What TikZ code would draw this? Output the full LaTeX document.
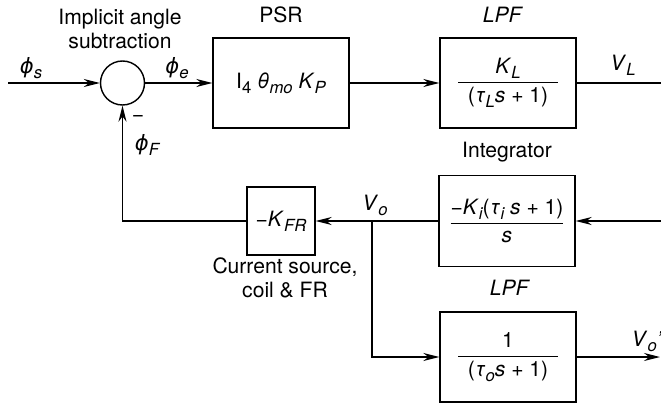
\documentclass[tikz,border=0pt]{standalone}
\usepackage{amsmath}
\usepackage{fontspec}
\setmainfont{TeX Gyre Heros}
\newfontfamily\phifont{DejaVu Sans}
\usetikzlibrary{arrows.meta,positioning}
\newcommand{\lowsub}[1]{\raisebox{-0.45ex}{\fontsize{9.5}{10}\selectfont\itshape #1}}
\newcommand{\isub}[2]{\textit{#1}\lowsub{#2}}
\newcommand{\phisub}[1]{{\phifont\itshape ϕ}\lowsub{#1}}

\begin{document}
\begin{tikzpicture}[x=1cm,y=1cm,font=\fontsize{12}{14}\selectfont]
\tikzset{
  block/.style={rectangle,draw,thick,minimum width=2.72cm,minimum height=1.80cm,inner sep=1pt},
  smallblock/.style={rectangle,draw,thick,minimum size=1.36cm,inner sep=1pt},
  sumnode/.style={circle,draw,thick,minimum size=8.8mm,inner sep=0pt},
  signal/.style={-{Stealth[length=3.2mm,width=1.6mm]},thick},
  plainline/.style={thick},
  caption/.style={align=center,inner sep=0pt}
}
\useasboundingbox (0,0) rectangle (13.22,8.10);
\node[sumnode] (n_sum) at (2.45,6.44) {};
\node[block] (n_psr) at (5.62,6.44) {I\lowsub{\upshape 4} \textit{θ}\lowsub{mo} \isub{K}{P}};
\node[block] (n_lpfl) at (10.16,6.44) {$\dfrac{\mbox{\isub{K}{L}}}{\mbox{\;\,(\isub{τ}{L}\textit{s} + 1)\;\,}}$};
\node[block,minimum height=1.82cm] (n_int) at (10.14,3.68) {$\dfrac{\mbox{−\isub{K}{i}(\isub{τ}{i} \textit{s} + 1)}}{\mbox{\textit{s}}}$};
\node[smallblock] (n_kfr) at (5.62,3.68) {−\isub{K}{FR}};
\node[block] (n_lpfo) at (10.16,0.96) {$\dfrac{\mbox{1}}{\mbox{\;\,(\isub{τ}{o}\textit{s} + 1)\;\,}}$};
\coordinate (n_in) at (0.16,6.44);
\coordinate (n_vl) at (13.22,6.44);
\coordinate (n_ref) at (13.22,3.68);
\coordinate (n_vo) at (7.44,3.68);
\coordinate (n_out) at (13.20,0.96);
\node[caption] (t_sub) at (2.40,7.52) {Implicit angle\\subtraction};
\node[caption] (t_psr) at (5.62,7.80) {PSR};
\node[caption] (t_lpfl) at (10.06,7.80) {\textit{LPF}};
\node[caption] (t_int) at (10.14,5.06) {Integrator};
\node[caption] (t_lpfo) at (10.20,2.34) {\textit{LPF}};
\node[caption] (t_kfr) at (5.70,2.54) {Current source,\\coil \& FR};
\node[caption] (t_phis) at (0.62,6.74) {\phisub{s}};
\node[caption] (t_phie) at (3.54,6.74) {\phisub{e}};
\node[caption] (t_minus) at (2.76,5.72) {−};
\node[caption] (t_phif) at (2.94,5.20) {\phisub{F}};
\node[caption] (t_vl) at (12.46,6.80) {\isub{V}{L}};
\node[caption] (t_vo) at (7.50,4.00) {\isub{V}{o}};
\node[caption] (t_voo) at (12.94,1.28) {\isub{V}{o}\textit{’}};
\draw[signal] (n_in) -- (n_sum);
\draw[signal] (n_sum) -- (n_psr);
\draw[signal] (n_psr) -- (n_lpfl);
\draw[plainline] (n_lpfl) -- (n_vl);
\draw[signal] (n_ref) -- (n_int);
\draw[signal] (n_int) -- (n_kfr);
\draw[signal] (n_kfr) -| (n_sum);
\draw[signal] (n_vo) |- (n_lpfo);
\draw[signal] (n_lpfo) -- (n_out);
\end{tikzpicture}
\end{document}
